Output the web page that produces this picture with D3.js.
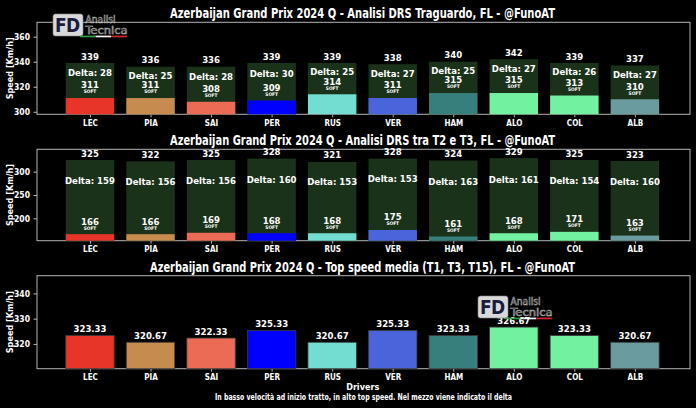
<!DOCTYPE html>
<html>
<head>
<meta charset="utf-8">
<script src="https://cdn.jsdelivr.net/npm/d3@7"></script>
<style>
  html, body { margin: 0; padding: 0; background: #000; }
  svg { display: block; }
  text { font-family: "Liberation Sans Narrow", "DejaVu Sans Condensed", sans-serif; font-weight: bold; fill: #fff; }
</style>
</head>
<body>
<svg id="chart" width="696" height="408"></svg>
<script>
// ---------------- DATA ----------------
const drivers = ["LEC", "PIA", "SAI", "PER", "RUS", "VER", "HAM", "ALO", "COL", "ALB"];
const driverColors = ["#E8352A", "#C68B4E", "#EC6B55", "#0000FF", "#72DDD0", "#4A64DC", "#377F7C", "#72F2A0", "#72F2A0", "#6A9C9F"];
const compounds = ["SOFT", "SOFT", "SOFT", "SOFT", "SOFT", "SOFT", "SOFT", "SOFT", "SOFT", "SOFT"];

// Panel 1: DRS Traguardo
const finishTop = [339, 336, 336, 339, 339, 338, 340, 342, 339, 337];
const finishStart = [311, 311, 308, 309, 314, 311, 315, 315, 313, 310];
// Panel 2: DRS tra T2 e T3
const t2t3Top = [325, 322, 325, 328, 321, 328, 324, 329, 325, 323];
const t2t3Start = [166, 166, 169, 168, 168, 175, 161, 168, 171, 163];
// Panel 3: Top speed media (T1, T3, T15)
const topSpeedMean = [323.33, 320.67, 322.33, 325.33, 320.67, 325.33, 323.33, 326.67, 323.33, 320.67];

const ticksP1 = [300, 320, 340, 360];
const ticksP2 = [200, 250, 300];
const ticksP3 = [320, 330, 340];

const titles = [
  "Azerbaijan Grand Prix 2024 Q - Analisi DRS Traguardo, FL - @FunoAT",
  "Azerbaijan Grand Prix 2024 Q - Analisi DRS tra T2 e T3, FL - @FunoAT",
  "Azerbaijan Grand Prix 2024 Q - Top speed media (T1, T3, T15), FL - @FunoAT"
];
const yLabel = "Speed [Km/h]";
const xLabel = "Drivers";
const footnote = "In basso velocità ad inizio tratto, in alto top speed. Nel mezzo viene indicato il delta";

// ---------------- LAYOUT ----------------
const svg = d3.select("#chart");
svg.append("rect").attr("width", 696).attr("height", 408).attr("fill", "#000");

const left = 37, right = 690;
const x = d3.scaleLinear().domain([-0.875, 9.91]).range([left, right]);
const bw = 0.8 * (x(1) - x(0));
const frameColor = "#b4b4b4";
const boxColor = "#1b321a";

const panels = [
  { top: 22.3, bottom: 114.3, dom: [298, 371.5], ticks: ticksP1, title: titles[0], titleY: 18.1, titleW: 385 },
  { top: 149.3, bottom: 240.7, dom: [152, 348], ticks: ticksP2, title: titles[1], titleY: 144.6, titleW: 385 },
  { top: 275.7, bottom: 368.7, dom: [310.2, 347], ticks: ticksP3, title: titles[2], titleY: 272.3, titleW: 425 }
];
panels.forEach(p => { p.y = d3.scaleLinear().domain(p.dom).range([p.bottom, p.top]); });

function drawAxes(p) {
  const g = svg.append("g");
  // y axis
  const ya = g.append("g").attr("transform", `translate(${left},0)`)
    .call(d3.axisLeft(p.y).tickValues(p.ticks).tickSize(3.5).tickPadding(3.5));
  ya.select(".domain").remove();
  ya.selectAll("line").attr("stroke", frameColor);
  ya.selectAll("text").attr("font-size", 8.5).attr("fill", "#fff").style("font-family", null);
  // x axis
  const xa = g.append("g").attr("transform", `translate(0,${p.bottom})`)
    .call(d3.axisBottom(x).tickValues(d3.range(drivers.length)).tickFormat(i => drivers[i]).tickSize(3).tickPadding(2.6));
  xa.select(".domain").remove();
  xa.selectAll("line").attr("stroke", frameColor);
  xa.selectAll("text").attr("font-size", 8).attr("fill", "#fff").style("font-family", null);
  // frame
  g.append("rect").attr("x", left).attr("y", p.top).attr("width", right - left).attr("height", p.bottom - p.top)
    .attr("fill", "none").attr("stroke", frameColor).attr("stroke-width", 1);
  // title
  svg.append("text").attr("x", (left + right) / 2 - 1).attr("y", p.titleY).attr("text-anchor", "middle")
    .attr("font-size", 14.5).attr("textLength", p.titleW).attr("lengthAdjust", "spacingAndGlyphs").text(p.title);
  // y label
  svg.append("text").attr("transform", `translate(13.3,${(p.top + p.bottom) / 2}) rotate(-90)`)
    .attr("text-anchor", "middle").attr("font-size", 9).text(yLabel);
}

function drawRangePanel(p, tops, starts) {
  const g = svg.append("g");
  const yb = p.bottom;
  const idx = d3.range(drivers.length);
  g.selectAll("rect.box").data(idx).join("rect").attr("class", "box")
    .attr("x", i => x(i) - bw / 2).attr("y", i => p.y(tops[i]))
    .attr("width", bw).attr("height", i => yb - p.y(tops[i])).attr("fill", boxColor);
  g.selectAll("rect.low").data(idx).join("rect").attr("class", "low")
    .attr("x", i => x(i) - bw / 2).attr("y", i => p.y(starts[i]))
    .attr("width", bw).attr("height", i => yb - p.y(starts[i])).attr("fill", i => driverColors[i]);
  // top values
  g.selectAll("text.top").data(idx).join("text").attr("class", "top")
    .attr("x", i => x(i)).attr("y", i => p.y(tops[i]) - 3.4).attr("text-anchor", "middle")
    .attr("font-size", 9.5).text(i => tops[i]);
  // delta
  g.selectAll("text.delta").data(idx).join("text").attr("class", "delta")
    .attr("x", i => x(i)).attr("y", i => p.y(starts[i] + 0.72 * (tops[i] - starts[i])) + 3.4)
    .attr("text-anchor", "middle").attr("font-size", 9.5).text(i => "Delta: " + (tops[i] - starts[i]));
  // start values
  g.selectAll("text.start").data(idx).join("text").attr("class", "start")
    .attr("x", i => x(i)).attr("y", i => p.y(starts[i]) - 9.6).attr("text-anchor", "middle")
    .attr("font-size", 9.5).text(i => starts[i]);
  g.selectAll("text.comp").data(idx).join("text").attr("class", "comp")
    .attr("x", i => x(i)).attr("y", i => p.y(starts[i]) - 4.6).attr("text-anchor", "middle")
    .attr("font-size", 4.8).text(i => compounds[i]);
}

function drawMeanPanel(p, vals) {
  const g = svg.append("g");
  const idx = d3.range(drivers.length);
  g.selectAll("rect.bar").data(idx).join("rect").attr("class", "bar")
    .attr("x", i => x(i) - bw / 2).attr("y", i => p.y(vals[i]))
    .attr("width", bw).attr("height", i => p.bottom - p.y(vals[i]))
    .attr("fill", i => driverColors[i]).attr("stroke", "#3a3a3a").attr("stroke-width", 0.8);
  g.selectAll("text.val").data(idx).join("text").attr("class", "val")
    .attr("x", i => x(i)).attr("y", i => p.y(vals[i]) - 3.3).attr("text-anchor", "middle")
    .attr("font-size", 9.5).text(i => d3.format(".2f")(vals[i]));
}

function drawLogo(x0, y0) {
  const g = svg.append("g").attr("transform", `translate(${x0},${y0})`);
  g.append("rect").attr("x", 0).attr("y", 0).attr("width", 30).attr("height", 22).attr("rx", 2.5)
    .attr("fill", "#d9d9dc").attr("stroke", "#888").attr("stroke-width", 0.6);
  g.append("text").attr("x", 2).attr("y", 18).attr("font-size", 19).style("fill", "#1c1c3c").text("F");
  g.append("text").attr("x", 13).attr("y", 18).attr("font-size", 19).style("fill", "#1c1c3c").text("D");
  g.append("text").attr("x", 32.5).attr("y", 9).attr("font-size", 10).style("fill", "none")
    .attr("textLength", 30).attr("lengthAdjust", "spacingAndGlyphs")
    .attr("stroke", "#c8c8c8").attr("stroke-width", 0.45).style("font-weight", "normal").text("Analisi");
  g.append("text").attr("x", 32.5).attr("y", 19.5).attr("font-size", 10).style("fill", "none")
    .attr("textLength", 42).attr("lengthAdjust", "spacingAndGlyphs")
    .attr("stroke", "#c8c8c8").attr("stroke-width", 0.45).style("font-weight", "normal").text("Tecnica");
  const flag = ["#2e9b47", "#f4f4f4", "#d4262b"];
  flag.forEach((c, k) => g.append("rect").attr("x", 27 + k * 15.6).attr("y", 21.6).attr("width", 15.6).attr("height", 1.7).attr("fill", c));
}

panels.forEach(drawAxes);
drawRangePanel(panels[0], finishTop, finishStart);
drawRangePanel(panels[1], t2t3Top, t2t3Start);
drawMeanPanel(panels[2], topSpeedMean);

drawLogo(53, 14);
drawLogo(478, 296);

svg.append("text").attr("x", 362.7).attr("y", 390).attr("text-anchor", "middle").attr("font-size", 9).text(xLabel);
svg.append("text").attr("x", 363.5).attr("y", 400).attr("text-anchor", "middle").attr("font-size", 9)
  .attr("textLength", 297).attr("lengthAdjust", "spacingAndGlyphs").text(footnote);
</script>
</body>
</html>
